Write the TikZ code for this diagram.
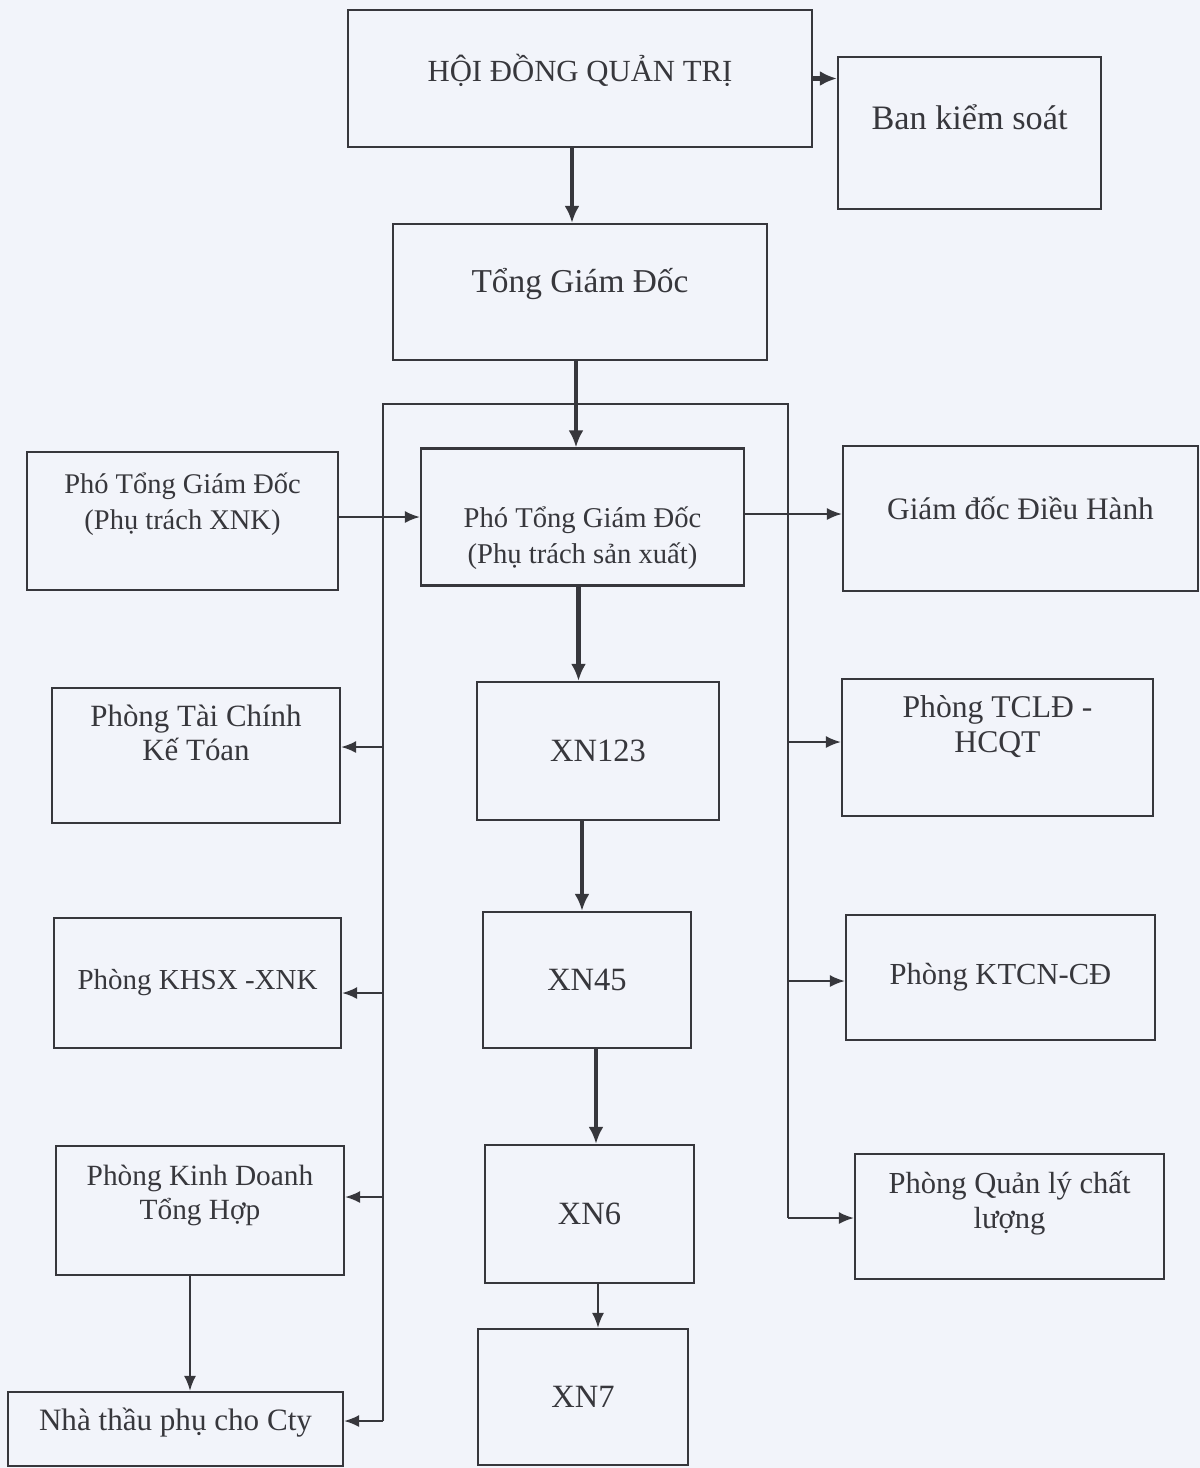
\documentclass[tikz,border=0pt]{standalone}
\usepackage{fontspec}
\setmainfont{Liberation Serif}
\usepackage{tikz}
\usetikzlibrary{arrows.meta,positioning,calc}

\definecolor{paper}{RGB}{242,244,250}
\definecolor{ink}{RGB}{55,55,60}

\tikzset{
  box/.style={draw=ink, line width=1.3pt, align=center, inner sep=2pt, text=ink},
  textup/.style={text depth=#1},
  textdown/.style={text height=#1},
  link/.style={draw=ink, line width=1.1pt},
  arr/.style={link, -{Latex[length=0.3cm, width=0.24cm]}},
  bigarr/.style={draw=ink, line width=2.4pt, -{Latex[length=0.34cm, width=0.3cm]}}
}

\begin{document}
\begin{tikzpicture}[x=0.02cm, y=-0.02cm]
  % page
  \fill[paper] (0,0) rectangle (1200,1468);
  \useasboundingbox (0,0) rectangle (1200,1468);

  % top of the chart
  \node[box, minimum width=9.28cm, minimum height=2.74cm, textup=0.42cm, font=\fontsize{17.5}{20}\selectfont] (hdqt) at (580,78.5) {HỘI ĐỒNG QUẢN TRỊ};
  \node[box, minimum width=5.26cm, minimum height=3.04cm, textup=0.62cm, font=\fontsize{19.5}{22}\selectfont] (bks) at (969.5,133) {Ban kiểm soát};
  \node[box, minimum width=7.48cm, minimum height=2.72cm, textup=0.46cm, font=\fontsize{19}{22}\selectfont] (tgd) at (580,292) {Tổng Giám Đốc};

  % deputies
  \node[box, minimum width=6.22cm, minimum height=2.76cm, textup=0.78cm, font=\fontsize{16.2}{20.5}\selectfont] (ptxnk) at (182.5,521) {Phó Tổng Giám Đốc\\(Phụ trách XNK)};
  \node[box, minimum width=6.46cm, minimum height=2.74cm, textdown=2.0cm, font=\fontsize{16.3}{20.5}\selectfont] (ptsx) at (582.5,517) {Phó Tổng Giám Đốc\\(Phụ trách sản xuất)};
  \node[box, minimum width=7.10cm, minimum height=2.90cm, textup=0.42cm, font=\fontsize{17.8}{20}\selectfont] (gddh) at (1020.5,518.5) {Giám đốc Điều Hành};

  % factories
  \node[box, minimum width=4.84cm, minimum height=2.76cm, font=\fontsize{18.5}{21}\selectfont] (xn123) at (598,751) {XN123};
  \node[box, minimum width=4.16cm, minimum height=2.72cm, font=\fontsize{18.5}{21}\selectfont] (xn45) at (587,980) {XN45};
  \node[box, minimum width=4.18cm, minimum height=2.76cm, font=\fontsize{18.5}{21}\selectfont] (xn6) at (589.5,1214) {XN6};
  \node[box, minimum width=4.20cm, minimum height=2.72cm, font=\fontsize{18.5}{21}\selectfont] (xn7) at (583,1397) {XN7};

  % left offices
  \node[box, minimum width=5.76cm, minimum height=2.70cm, textup=0.9cm, font=\fontsize{17.6}{19.5}\selectfont] (ptckt) at (196,755.5) {Phòng Tài Chính\\Kế Tóan};
  \node[box, minimum width=5.74cm, minimum height=2.60cm, font=\fontsize{16.5}{19}\selectfont] (khsx) at (197.5,983) {Phòng KHSX -XNK};
  \node[box, minimum width=5.76cm, minimum height=2.58cm, textup=0.74cm, font=\fontsize{16.7}{19.5}\selectfont] (kdth) at (200,1210.5) {Phòng Kinh Doanh\\Tổng Hợp};
  \node[box, minimum width=6.70cm, minimum height=1.48cm, textup=0.38cm, font=\fontsize{17.7}{19}\selectfont] (nhathau) at (175.5,1429) {Nhà thầu phụ cho Cty};

  % right offices
  \node[box, minimum width=6.22cm, minimum height=2.74cm, textup=0.94cm, font=\fontsize{18}{19.5}\selectfont] (tcld) at (997.5,747.5) {Phòng TCLĐ -\\HCQT};
  \node[box, minimum width=6.18cm, minimum height=2.50cm, font=\fontsize{17.4}{19}\selectfont] (ktcn) at (1000.5,977.5) {Phòng KTCN-CĐ};
  \node[box, minimum width=6.18cm, minimum height=2.50cm, textup=0.66cm, font=\fontsize{17.4}{19.5}\selectfont] (qlcl) at (1009.5,1216.5) {Phòng Quản lý chất\\lượng};

  % bus lines
  \coordinate (busl) at (383,404);
  \coordinate (busr) at (788,404);
  \coordinate (l1) at (383,747);
  \coordinate (l2) at (383,993);
  \coordinate (l3) at (383,1197);
  \coordinate (l4) at (383,1421);
  \coordinate (r1) at (788,742);
  \coordinate (r2) at (788,981);
  \coordinate (r3) at (788,1218);
  \draw[link] (l4) -- (busl) -- (busr) -- (r3);

  % main line
  \draw[bigarr] (hdqt.east) -- (hdqt.east -| bks.west);
  \draw[bigarr] ([xshift=-0.16cm]hdqt.south) -- ([xshift=-0.16cm]tgd.north);
  \draw[bigarr] ([xshift=-0.08cm]tgd.south) -- ([xshift=-0.08cm]tgd.south |- ptsx.north);
  \draw[arr] (ptsx.west -| ptxnk.east) -- (ptsx.west);
  \draw[arr] ([yshift=0.06cm]ptsx.east) -- ([yshift=0.06cm]ptsx.east -| gddh.west);
  \draw[bigarr] ([xshift=-0.08cm]ptsx.south) -- ([xshift=-0.08cm]ptsx.south |- xn123.north);
  \draw[bigarr] ([xshift=-0.32cm]xn123.south) -- ([xshift=-0.32cm]xn123.south |- xn45.north);
  \draw[bigarr] ([xshift=0.18cm]xn45.south) -- ([xshift=0.18cm]xn45.south |- xn6.north);
  \draw[arr] ([xshift=0.17cm]xn6.south) -- ([xshift=0.17cm]xn6.south |- xn7.north);

  % branches
  \draw[arr] (l1) -- (l1 -| ptckt.east);
  \draw[arr] (l2) -- (l2 -| khsx.east);
  \draw[arr] (l3) -- (l3 -| kdth.east);
  \draw[arr] (l4) -- (l4 -| nhathau.east);
  \draw[arr] (r1) -- (r1 -| tcld.west);
  \draw[arr] (r2) -- (r2 -| ktcn.west);
  \draw[arr] (r3) -- (r3 -| qlcl.west);
  \draw[arr] ([xshift=-0.2cm]kdth.south) -- ([xshift=-0.2cm]kdth.south |- nhathau.north);
\end{tikzpicture}
\end{document}
